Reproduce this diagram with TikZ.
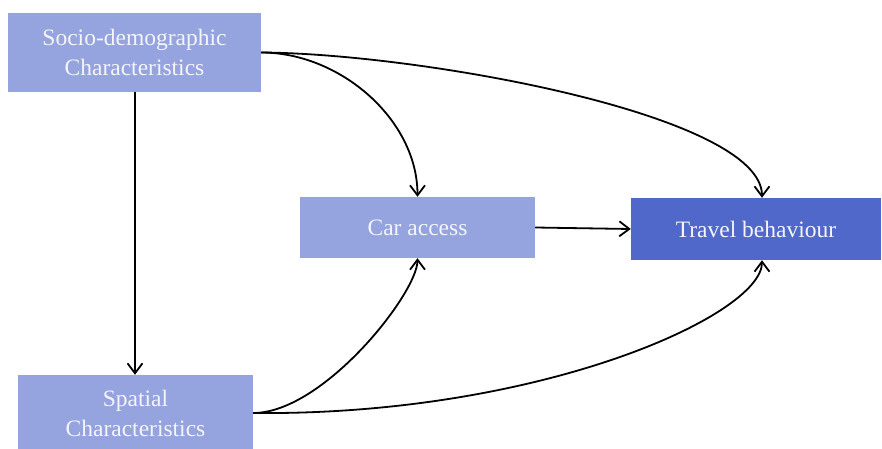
\documentclass[tikz,border=0pt]{standalone}
\usepackage{fontspec}
\setmainfont{Liberation Serif}
\usetikzlibrary{arrows.meta,calc}
\definecolor{boxlight}{HTML}{95A4DF}
\definecolor{boxdark}{HTML}{5068C9}
\definecolor{boxtext}{HTML}{F4F4FA}
\begin{document}
\begin{tikzpicture}[x=1pt,y=-1pt,
  boxa/.style={fill=boxlight,draw=none,inner sep=0pt,text=boxtext,align=center,
    font=\fontsize{23.5}{30}\selectfont},
  boxb/.style={boxa,fill=boxdark},
  conn/.style={line width=1.8pt,-{Straight Barb[length=10pt,width=15pt,line width=1.8pt]}}]
\useasboundingbox (0,0) rectangle (882,449);
\fill[white] (0,0) rectangle (882,449);
\begin{scope}
\clip (0,0) rectangle (882,449);
\node[boxa,minimum width=253pt,minimum height=79pt] (soc) at (134.5,52.5) {Socio-demographic\\Characteristics};
\node[boxa,minimum width=235pt,minimum height=61pt] (car) at (417.5,227.5) {Car access};
\node[boxb,minimum width=250pt,minimum height=62pt] (trv) at (756,229) {Travel behaviour};
\node[boxa,minimum width=235pt,minimum height=76pt] (spa) at (135.5,413) {Spatial\\Characteristics};
\end{scope}
\coordinate (trvN) at ($(trv.north)+(6,0)$);
\coordinate (trvS) at ($(trv.south)+(6,0)$);
\coordinate (carN) at (car.north);
\coordinate (carS) at (car.south);
\coordinate (socS) at ($(soc.south)+(0.5,0)$);
\coordinate (spaN) at (socS |- spa.north);
\draw[conn] (socS) -- (spaN);
\draw[conn] (soc.east) .. controls ($(soc.east)+(79,0)$) and ($(carN)+(0,-77)$) .. (carN);
\draw[conn] (soc.east) .. controls ($(soc.east)+(159,1)$) and ($(trvN)+(0,-83)$) .. (trvN);
\draw[conn] (car.east) -- (trv.west);
\draw[conn] (spa.east) .. controls ($(spa.east)+(70,0)$) and ($(carS)+(0,35)$) .. (carS);
\draw[conn] (spa.east) .. controls ($(spa.east)+(287,3)$) and ($(trvS)+(0,55)$) .. (trvS);
\end{tikzpicture}
\end{document}
